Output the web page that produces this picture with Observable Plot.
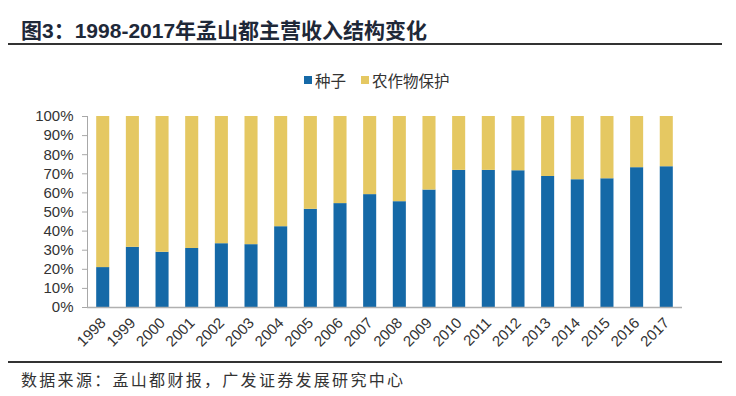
<!DOCTYPE html>
<html><head><meta charset="utf-8">
<script src="https://cdn.jsdelivr.net/npm/d3@7"></script>
<script src="https://cdn.jsdelivr.net/npm/@observablehq/plot@0.6"></script>
<style>
html,body{margin:0;padding:0;background:#fff;}
#wrap{position:relative;width:736px;height:396px;overflow:hidden;font-family:"Liberation Sans","Noto Sans CJK SC",sans-serif;}
#title{position:absolute;left:21px;top:14px;font-size:21px;font-weight:bold;color:#1e2838;white-space:nowrap;font-family:"Liberation Sans","Noto Sans CJK SC",sans-serif;}
.rule{position:absolute;left:8px;width:714px;height:2px;background:#333;}
#legend{position:absolute;top:69px;left:304px;font-size:15.5px;color:#333;font-family:"Noto Sans CJK SC",sans-serif;white-space:nowrap;display:flex;align-items:center;}
.sw{display:inline-block;width:8px;height:8px;margin-right:3px;}
#source{position:absolute;left:21px;top:367px;font-size:16px;color:#333;font-family:"Noto Sans CJK SC",sans-serif;white-space:nowrap;letter-spacing:2.3px;}
#plot{position:absolute;left:0;top:90px;}
</style></head>
<body>
<div id="wrap">
  <div id="title"></div>
  <div class="rule" style="top:43px"></div>
  <div id="legend"></div>
  <div id="plot"></div>
  <div class="rule" style="top:361px"></div>
  <div id="source"></div>
</div>
<script>
const titleText = "图3：1998-2017年孟山都主营收入结构变化";
const sourceText = "数据来源：孟山都财报，广发证券发展研究中心";
const years = ["1998","1999","2000","2001","2002","2003","2004","2005","2006","2007","2008","2009","2010","2011","2012","2013","2014","2015","2016","2017"];
const seriesNames = ["种子", "农作物保护"];
const seedShare = [20.9, 31.5, 28.9, 30.9, 33.4, 32.9, 42.3, 51.4, 54.4, 59.1, 55.4, 61.5, 71.8, 71.8, 71.6, 68.6, 66.9, 67.4, 73.2, 73.7];
const cropShare = [79.1, 68.5, 71.1, 69.1, 66.6, 67.1, 57.7, 48.6, 45.6, 40.9, 44.6, 38.5, 28.2, 28.2, 28.4, 31.4, 33.1, 32.6, 26.8, 26.3];
const colors = ["#1569a7", "#e5c862"];
const yTicks = [0,10,20,30,40,50,60,70,80,90,100];

document.getElementById("title").textContent = titleText;
document.getElementById("source").textContent = sourceText;
const leg = document.getElementById("legend");
seriesNames.forEach((n,i)=>{
  const s = document.createElement("span"); s.className="sw"; s.style.background=colors[i];
  const t = document.createElement("span"); t.textContent = n; t.style.marginRight = i===0 ? "15px" : "0";
  leg.appendChild(s); leg.appendChild(t);
});

const data = [];
years.forEach((y,i)=>{
  data.push({year:y, type:seriesNames[0], value:seedShare[i]});
  data.push({year:y, type:seriesNames[1], value:cropShare[i]});
});

const chart = Plot.plot({
  width: 736,
  height: 270,
  marginLeft: 87,
  marginRight: 54,
  marginTop: 26,
  marginBottom: 53,
  style: {fontFamily: "'Liberation Sans', Arial, sans-serif", fontSize: "15px", color: "#333", background: "transparent"},
  x: {domain: years, paddingInner: 0.56, paddingOuter: 0.31, round: false, label: null},
  y: {domain: [0,100], label: null},
  color: {domain: seriesNames, range: colors},
  marks: [
    Plot.barY(data, {x:"year", y:"value", fill:"type", order: seriesNames}),
    Plot.frame({anchor:"left", stroke:"#a8a8a8"}),
    Plot.ruleY([0], {stroke:"#b0b0b0", strokeWidth: 1.5}),
    Plot.axisY(yTicks, {tickSize:5, tickPadding:9, stroke:"#a8a8a8", fill:"#333", fontSize: 15, tickFormat: d => d + "%", label: null}),
    Plot.axisX({tickSize:0, tickPadding:13, tickRotate:-45, fill:"#333", fontSize: 15, label: null})
  ]
});
document.getElementById("plot").appendChild(chart);
</script>
</body></html>
